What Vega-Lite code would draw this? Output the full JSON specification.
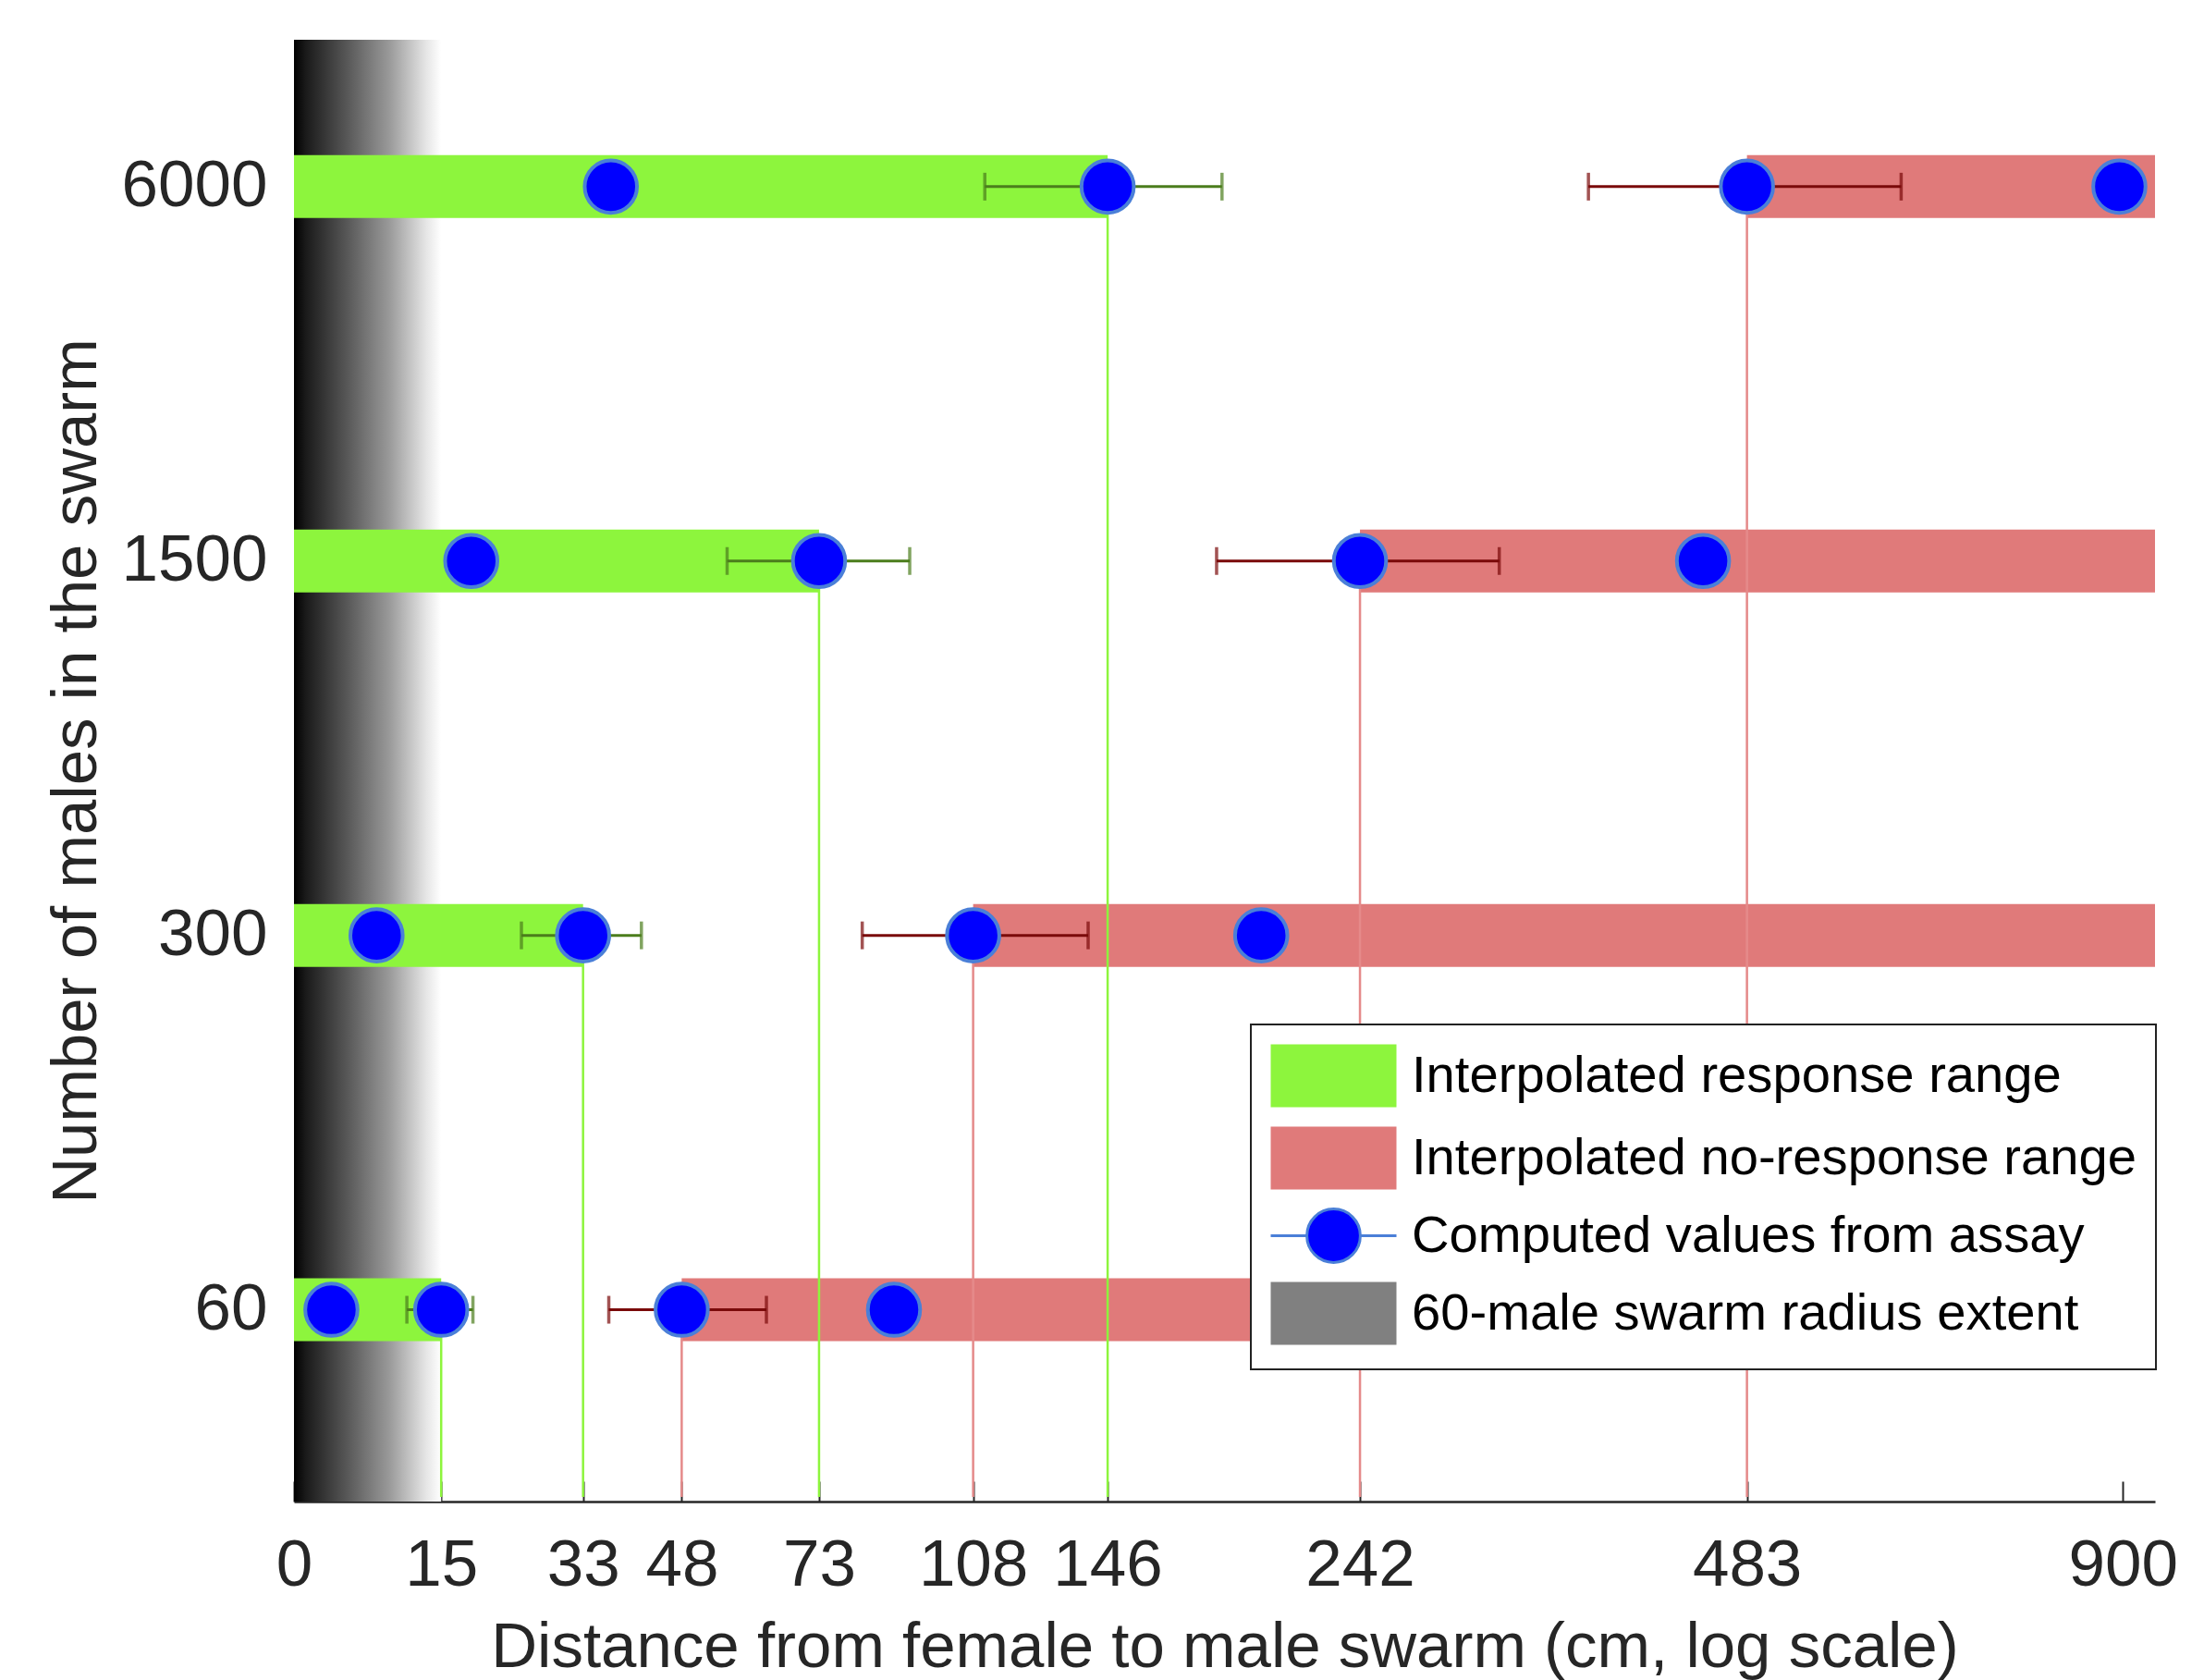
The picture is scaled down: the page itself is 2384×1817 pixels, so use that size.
{
  "$schema": "https://vega.github.io/schema/vega-lite/v6.json",
  "width": 2013,
  "height": 1581,
  "autosize": "none",
  "padding": {"left": 318, "top": 43, "right": 53, "bottom": 193},
  "background": "white",
  "config": {"view": {"stroke": null}, "font": "Liberation Sans"},
  "datasets": {
    "ranges": [
      {"males": "6000", "yv": 4, "kind": "response", "lo": 0, "hi": 146},
      {"males": "6000", "yv": 4, "kind": "no response", "lo": 483, "hi": 948},
      {"males": "1500", "yv": 3, "kind": "response", "lo": 0, "hi": 73},
      {"males": "1500", "yv": 3, "kind": "no response", "lo": 242, "hi": 948},
      {"males": "300", "yv": 2, "kind": "response", "lo": 0, "hi": 33},
      {"males": "300", "yv": 2, "kind": "no response", "lo": 108, "hi": 948},
      {"males": "60", "yv": 1, "kind": "response", "lo": 0, "hi": 15},
      {"males": "60", "yv": 1, "kind": "no response", "lo": 48, "hi": 948}
    ],
    "cutoffs": [
      {"males": "6000", "yv": 4, "kind": "response", "x": 146},
      {"males": "6000", "yv": 4, "kind": "no response", "x": 483},
      {"males": "1500", "yv": 3, "kind": "response", "x": 73},
      {"males": "1500", "yv": 3, "kind": "no response", "x": 242},
      {"males": "300", "yv": 2, "kind": "response", "x": 33},
      {"males": "300", "yv": 2, "kind": "no response", "x": 108},
      {"males": "60", "yv": 1, "kind": "response", "x": 15},
      {"males": "60", "yv": 1, "kind": "no response", "x": 48}
    ],
    "errors": [
      {"males": "6000", "yv": 4, "kind": "response", "lo": 111, "hi": 185},
      {"males": "6000", "yv": 4, "kind": "no response", "lo": 367, "hi": 626},
      {"males": "1500", "yv": 3, "kind": "response", "lo": 55.7, "hi": 92.6},
      {"males": "1500", "yv": 3, "kind": "no response", "lo": 183, "hi": 313},
      {"males": "300", "yv": 2, "kind": "response", "lo": 24.7, "hi": 41.6},
      {"males": "300", "yv": 2, "kind": "no response", "lo": 82, "hi": 140},
      {"males": "60", "yv": 1, "kind": "response", "lo": 11.2, "hi": 18.7},
      {"males": "60", "yv": 1, "kind": "no response", "lo": 36.7, "hi": 62.8}
    ],
    "dots": [
      {"males": "6000", "yv": 4, "x": 37},
      {"males": "6000", "yv": 4, "x": 146},
      {"males": "6000", "yv": 4, "x": 483},
      {"males": "6000", "yv": 4, "x": 895},
      {"males": "1500", "yv": 3, "x": 18.5},
      {"males": "1500", "yv": 3, "x": 73},
      {"males": "1500", "yv": 3, "x": 242},
      {"males": "1500", "yv": 3, "x": 448},
      {"males": "300", "yv": 2, "x": 8},
      {"males": "300", "yv": 2, "x": 33},
      {"males": "300", "yv": 2, "x": 108},
      {"males": "300", "yv": 2, "x": 200},
      {"males": "60", "yv": 1, "x": 3.5},
      {"males": "60", "yv": 1, "x": 15},
      {"males": "60", "yv": 1, "x": 48},
      {"males": "60", "yv": 1, "x": 89}
    ],
    "swarm": [{"lo": 0, "hi": 15}],
    "legendItems": [
      {"series": "Interpolated response range"},
      {"series": "Interpolated no-response range"},
      {"series": "Computed values from assay"},
      {"series": "60-male swarm radius extent"}
    ]
  },
  "layer": [
    {
      "data": {"name": "swarm"},
      "mark": {
        "type": "rect",
        "fill": {
          "gradient": "linear",
          "x1": 0, "y1": 0, "x2": 1, "y2": 0,
          "stops": [
            {"offset": 0, "color": "#000000"},
            {"offset": 0.08, "color": "#1a1a1a"},
            {"offset": 0.35, "color": "#555555"},
            {"offset": 0.65, "color": "#9a9a9a"},
            {"offset": 0.9, "color": "#e6e6e6"},
            {"offset": 1, "color": "#ffffff"}
          ]
        }
      },
      "encoding": {
        "x": {
          "field": "lo", "type": "quantitative",
          "title": "Distance from female to male swarm (cm, log scale)",
          "scale": {"type": "symlog", "constant": 60, "domain": [0, 948], "nice": false, "zero": false},
          "axis": {
            "title": "Distance from female to male swarm (cm, log scale)",
            "values": [0, 15, 33, 48, 73, 108, 146, 242, 483, 900],
            "format": "d",
            "grid": false,
            "labelOverlap": false,
            "labelFlush": false,
            "domainColor": "#262626",
            "domainWidth": 2.5,
            "tickColor": "#262626",
            "tickWidth": 2,
            "tickSize": -22,
            "labelFontSize": 71,
            "labelColor": "#262626",
            "labelPadding": 56,
            "titleFontSize": 69,
            "titleFontWeight": "normal",
            "titleColor": "#262626",
            "titlePadding": 19
          }
        },
        "x2": {"field": "hi"}
      }
    },
    {
      "data": {"name": "ranges"},
      "transform": [{"filter": "datum.kind === 'response'"}],
      "mark": {"type": "bar", "orient": "horizontal", "size": 68, "color": "#8df53d"},
      "encoding": {
        "x": {"field": "lo", "type": "quantitative", "title": "Distance from female to male swarm (cm, log scale)"},
        "x2": {"field": "hi"},
        "y": {
          "field": "yv", "type": "quantitative",
          "title": "Number of males in the swarm",
          "scale": {"domain": [0.5, 4.38], "nice": false, "zero": false},
          "axis": {
            "title": "Number of males in the swarm",
            "values": [1, 2, 3, 4],
            "labelExpr": "['', '60', '300', '1500', '6000'][datum.value]",
            "domain": false,
            "ticks": false,
            "grid": false,
            "labelFontSize": 71,
            "labelColor": "#262626",
            "labelPadding": 29,
            "titleFontSize": 69,
            "titleFontWeight": "normal",
            "titleColor": "#262626",
            "titlePadding": 14
          }
        }
      }
    },
    {
      "data": {"name": "ranges"},
      "transform": [{"filter": "datum.kind === 'no response'"}],
      "mark": {"type": "bar", "orient": "horizontal", "size": 68, "color": "#e07a7a"},
      "encoding": {
        "x": {"field": "lo", "type": "quantitative", "title": "Distance from female to male swarm (cm, log scale)"},
        "x2": {"field": "hi"},
        "y": {"field": "yv", "type": "quantitative", "title": "Number of males in the swarm"}
      }
    },
    {
      "data": {"name": "cutoffs"},
      "transform": [{"filter": "datum.kind === 'response'"}],
      "mark": {"type": "rule", "color": "#8df53d", "strokeWidth": 2.5},
      "encoding": {
        "x": {"field": "x", "type": "quantitative", "title": "Distance from female to male swarm (cm, log scale)"},
        "y": {"field": "yv", "type": "quantitative", "title": "Number of males in the swarm"},
        "y2": {"datum": 0.5}
      }
    },
    {
      "data": {"name": "cutoffs"},
      "transform": [{"filter": "datum.kind === 'no response'"}],
      "mark": {"type": "rule", "color": "#e58a8a", "strokeWidth": 2.5},
      "encoding": {
        "x": {"field": "x", "type": "quantitative", "title": "Distance from female to male swarm (cm, log scale)"},
        "y": {"field": "yv", "type": "quantitative", "title": "Number of males in the swarm"},
        "y2": {"datum": 0.5}
      }
    },
    {
      "data": {"name": "errors"},
      "transform": [{"filter": "datum.kind === 'response'"}],
      "mark": {"type": "rule", "color": "#4b7d1c", "strokeWidth": 3},
      "encoding": {
        "x": {"field": "lo", "type": "quantitative", "title": "Distance from female to male swarm (cm, log scale)"},
        "x2": {"field": "hi"},
        "y": {"field": "yv", "type": "quantitative", "title": "Number of males in the swarm"}
      }
    },
    {
      "data": {"name": "errors"},
      "transform": [{"filter": "datum.kind === 'response'"}, {"fold": ["lo", "hi"], "as": ["end", "xe"]}],
      "mark": {"type": "tick", "orient": "vertical", "color": "#4b7d1c", "size": 30, "thickness": 3.5},
      "encoding": {
        "x": {"field": "xe", "type": "quantitative", "title": "Distance from female to male swarm (cm, log scale)"},
        "y": {"field": "yv", "type": "quantitative", "title": "Number of males in the swarm"}
      }
    },
    {
      "data": {"name": "errors"},
      "transform": [{"filter": "datum.kind === 'no response'"}],
      "mark": {"type": "rule", "color": "#7a0a0a", "strokeWidth": 3},
      "encoding": {
        "x": {"field": "lo", "type": "quantitative", "title": "Distance from female to male swarm (cm, log scale)"},
        "x2": {"field": "hi"},
        "y": {"field": "yv", "type": "quantitative", "title": "Number of males in the swarm"}
      }
    },
    {
      "data": {"name": "errors"},
      "transform": [{"filter": "datum.kind === 'no response'"}, {"fold": ["lo", "hi"], "as": ["end", "xe"]}],
      "mark": {"type": "tick", "orient": "vertical", "color": "#7a0a0a", "size": 30, "thickness": 3.5},
      "encoding": {
        "x": {"field": "xe", "type": "quantitative", "title": "Distance from female to male swarm (cm, log scale)"},
        "y": {"field": "yv", "type": "quantitative", "title": "Number of males in the swarm"}
      }
    },
    {
      "data": {"name": "dots"},
      "mark": {"type": "point", "shape": "circle", "filled": true, "size": 3200, "fill": "#0000ff", "stroke": "#4a7fd8", "strokeWidth": 4, "opacity": 1},
      "encoding": {
        "x": {"field": "x", "type": "quantitative", "title": "Distance from female to male swarm (cm, log scale)"},
        "y": {"field": "yv", "type": "quantitative", "title": "Number of males in the swarm"}
      }
    },
    {
      "data": {"name": "legendItems"},
      "mark": {"type": "point", "filled": true, "opacity": 0},
      "encoding": {
        "color": {
          "field": "series", "type": "nominal",
          "scale": {
            "domain": ["Interpolated response range", "Interpolated no-response range", "Computed values from assay", "60-male swarm radius extent"],
            "range": ["#8df53d", "#e07a7a", "#0000ff", "#808080"]
          },
          "legend": {
            "title": null,
            "orient": "none",
            "legendX": 1035,
            "legendY": 1065,
            "direction": "vertical",
            "symbolSize": 4624,
            "symbolOffset": 34,
            "labelOffset": 49,
            "labelFontSize": 56.2,
            "labelColor": "#000000",
            "labelLimit": 0,
            "rowPadding": 8,
            "padding": 20,
            "fillColor": "#ffffff",
            "strokeColor": "#222222",
            "symbolOpacity": 1,
            "encode": {
              "symbols": {
                "update": {
                  "opacity": {"value": 1},
                  "fillOpacity": {"value": 1},
                  "stroke": {"signal": "datum.value === 'Computed values from assay' ? '#4a7fd8' : 'transparent'"},
                  "strokeWidth": {"value": 3}
                }
              },
              "legend": {"update": {"strokeWidth": {"value": 2}}}
            }
          }
        },
        "shape": {
          "field": "series", "type": "nominal",
          "scale": {
            "domain": ["Interpolated response range", "Interpolated no-response range", "Computed values from assay", "60-male swarm radius extent"],
            "range": [
              "M-2,-1H2V1H-2Z",
              "M-2,-1H2V1H-2Z",
              "M-2,0H-0.85M0.85,0H2M-0.85,0A0.85,0.85 0 1,1 0.85,0A0.85,0.85 0 1,1 -0.85,0Z",
              "M-2,-1H2V1H-2Z"
            ]
          },
          "legend": {
            "title": null,
            "orient": "none",
            "legendX": 1035,
            "legendY": 1065,
            "direction": "vertical",
            "symbolSize": 4624,
            "symbolOffset": 34,
            "labelOffset": 49,
            "labelFontSize": 56.2,
            "labelColor": "#000000",
            "labelLimit": 0,
            "rowPadding": 8,
            "padding": 20,
            "fillColor": "#ffffff",
            "strokeColor": "#222222",
            "symbolOpacity": 1,
            "encode": {
              "symbols": {
                "update": {
                  "opacity": {"value": 1},
                  "fillOpacity": {"value": 1},
                  "stroke": {"signal": "datum.value === 'Computed values from assay' ? '#4a7fd8' : 'transparent'"},
                  "strokeWidth": {"value": 3}
                }
              },
              "legend": {"update": {"strokeWidth": {"value": 2}}}
            }
          }
        }
      }
    }
  ]
}
